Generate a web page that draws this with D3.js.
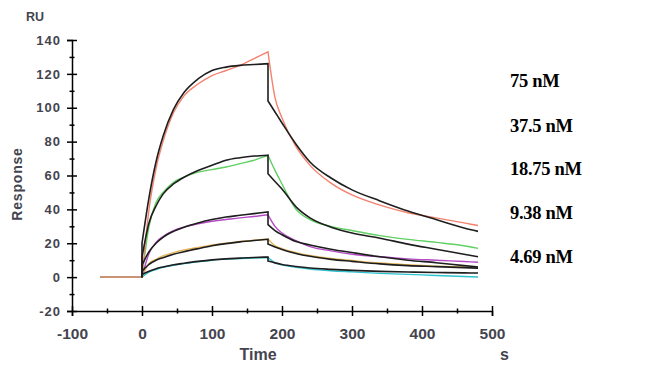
<!DOCTYPE html>
<html>
<head>
<meta charset="utf-8">
<script src="https://cdn.jsdelivr.net/npm/d3@7"></script>
<style>
  body { margin: 0; background: #fff; }
  svg { display: block; }
</style>
</head>
<body>
<div id="chart"></div>
<script>
// time points (s)
const assocTimes = [0, 10, 20, 30, 45, 60, 80, 100, 120, 140, 160, 180];
const dissTimes = [180, 190, 200, 220, 240, 270, 300, 340, 380, 420, 460, 480];
const baselineTimes = [-60, 0];

const concentrations = ["75 nM", "37.5 nM", "18.75 nM", "9.38 nM", "4.69 nM"];
const seriesColours = ["#f4826e", "#5fd062", "#b549c6", "#e6b65a", "#2cc3cf"];

// measured responses (RU)
const dataAssoc = [
  [0, 40, 64, 80, 97, 107, 114, 119, 122, 125, 129, 133],
  [0, 30, 44, 50, 56, 59, 62, 63.5, 65, 67, 69, 72],
  [0, 14, 20.5, 24, 27.5, 29.5, 31.5, 33, 34, 35, 35.8, 36.8],
  [0, 8, 10.5, 12.5, 14.5, 16, 17.5, 19, 20, 21, 21.8, 22.5],
  [0, 3, 4.5, 5.8, 7, 8, 9, 10, 10.6, 11, 11.3, 11.6]
];
const dataDiss = [
  [133, 106, 94, 77, 66, 55.5, 48.5, 42.5, 38, 35, 32, 30.5],
  [72, 63, 55, 40, 34, 30, 27.5, 24.5, 22.3, 20.5, 18.5, 17],
  [36.8, 30, 26, 21.5, 18, 15.5, 13.5, 12, 10.8, 10, 9.2, 8.8],
  [22.5, 18.5, 16.8, 14.5, 12.8, 11, 9.8, 8.3, 7.3, 6.5, 6, 5.8],
  [11.6, 8.5, 7.2, 5.8, 4.8, 3.8, 3.1, 2.2, 1.6, 1, 0.4, 0.1]
];

// fitted curves (RU)
const fitAssoc = [
  [20, 47, 68, 83, 99, 109, 117, 122, 124, 125, 125.5, 126],
  [12, 32, 42, 49, 55, 59, 63, 66, 69, 70.5, 71.5, 72],
  [7, 15, 20, 23.5, 27, 29.5, 32, 34, 35.5, 36.5, 37.5, 38.5],
  [3.5, 7.5, 10, 11.5, 13.5, 15, 16.8, 18.5, 19.8, 20.8, 21.6, 22.3],
  [1.5, 3.5, 5, 6, 7.3, 8.2, 9.3, 10.2, 10.8, 11.2, 11.6, 11.9]
];
const fitDiss = [
  [104, 97.5, 91, 78.5, 68, 58.5, 51.5, 45, 39, 34, 29, 27],
  [61, 56.5, 52, 41.5, 35, 29.5, 26, 23, 19.5, 16.5, 13.5, 12],
  [31, 27.5, 25, 21, 19, 16.5, 14.5, 12, 10, 8.5, 6.8, 6],
  [19.5, 17.8, 16.3, 14, 12.3, 10.5, 9.3, 7.8, 6.8, 6.2, 5.6, 5.3],
  [9.5, 8.4, 7.5, 6.3, 5.4, 4.6, 4, 3.4, 3, 2.7, 2.5, 2.4]
];

const xTicks = [-100, 0, 100, 200, 300, 400, 500];
const yTicks = [-20, 0, 20, 40, 60, 80, 100, 120, 140];

/*  layout  */
const width = 650;
const height = 367;

const svg = d3.select("#chart")
  .append("svg")
    .attr("width", width)
    .attr("height", height);

const xScale = d3.scaleLinear().domain([-100, 500]).range([72, 492]);
const yScale = d3.scaleLinear().domain([-20, 140]).range([311, 40]);

const axisFont = "'Liberation Sans', Arial, sans-serif";
const labelColour = "#44444e";

// minor ticks
svg.append("g")
    .attr("transform", `translate(0, ${yScale(-20)})`)
    .call(d3.axisBottom(xScale).tickValues(d3.range(-50, 500, 100)).tickFormat("").tickSize(0))
    .call(g => g.select(".domain").remove())
    .call(g => g.selectAll(".tick line").attr("y1", -2.5).attr("y2", 2.5).attr("stroke", "#000").attr("stroke-width", 1.5));

svg.append("g")
    .attr("transform", `translate(${xScale(-100)}, 0)`)
    .call(d3.axisLeft(yScale).tickValues(d3.range(-10, 140, 20)).tickFormat("").tickSize(0))
    .call(g => g.select(".domain").remove())
    .call(g => g.selectAll(".tick line").attr("x1", -2.5).attr("x2", 2.5).attr("stroke", "#000").attr("stroke-width", 1.5));

// x axis
svg.append("g")
    .attr("transform", `translate(0, ${yScale(-20)})`)
    .call(d3.axisBottom(xScale).tickValues(xTicks).tickFormat(d => String(d))
      .tickSizeOuter(0).tickSize(5).tickPadding(12))
    .call(g => g.select(".domain").attr("stroke-width", 1.5))
    .call(g => g.selectAll(".tick line").attr("y1", -5).attr("y2", 5).attr("stroke-width", 1.5))
    .call(g => g.selectAll("text")
        .attr("font-family", axisFont)
        .attr("font-weight", "bold")
        .attr("font-size", 15.5)
        .attr("fill", labelColour));

// y axis
svg.append("g")
    .attr("transform", `translate(${xScale(-100)}, 0)`)
    .call(d3.axisLeft(yScale).tickValues(yTicks).tickFormat(d => String(d))
      .tickSizeOuter(0).tickSize(5).tickPadding(6))
    .call(g => g.select(".domain").attr("stroke-width", 1.5))
    .call(g => g.selectAll(".tick line").attr("x1", -5).attr("x2", 5).attr("stroke-width", 1.5))
    .call(g => g.selectAll("text")
        .attr("font-family", axisFont)
        .attr("font-weight", "bold")
        .attr("font-size", 13)
        .attr("letter-spacing", 1)
        .attr("fill", labelColour));

/*  curves  */
const lineMono = d3.line()
  .x(d => xScale(d[0]))
  .y(d => yScale(d[1]))
  .curve(d3.curveMonotoneX);

const lineStraight = d3.line()
  .x(d => xScale(d[0]))
  .y(d => yScale(d[1]));

const plot = svg.append("g");

// measured data, smallest first so red sits on top
d3.range(concentrations.length).reverse().forEach(i => {
  const base = lineStraight(baselineTimes.map(t => [t, 0]));
  const a = lineMono(assocTimes.map((t, j) => [t, dataAssoc[i][j]]));
  const b = lineMono(dissTimes.map((t, j) => [t, dataDiss[i][j]]));
  plot.append("path")
    .attr("d", base + "L" + a.slice(1) + "L" + b.slice(1))
    .attr("fill", "none")
    .attr("stroke", seriesColours[i])
    .attr("stroke-width", 1.4);
});

// fitted curves
d3.range(concentrations.length).forEach(i => {
  const start = lineStraight([[0, 0], [0, fitAssoc[i][0]]]);
  const a = lineMono(assocTimes.map((t, j) => [t, fitAssoc[i][j]]));
  const b = lineMono(dissTimes.map((t, j) => [t, fitDiss[i][j]]));
  plot.append("path")
    .attr("d", start + "L" + a.slice(1) + "L" + b.slice(1))
    .attr("fill", "none")
    .attr("stroke", "#1e1e1e")
    .attr("stroke-width", 1.6);
});

/*  labels  */
svg.append("text")
    .text("RU")
    .attr("x", 26)
    .attr("y", 21)
    .attr("font-family", axisFont)
    .attr("font-weight", "bold")
    .attr("font-size", 12.5)
    .attr("fill", labelColour);

svg.append("text")
    .text("Response")
    .attr("transform", "translate(22, 184) rotate(-90)")
    .attr("text-anchor", "middle")
    .attr("font-family", axisFont)
    .attr("font-weight", "bold")
    .attr("font-size", 14)
    .attr("letter-spacing", 0.8)
    .attr("fill", labelColour);

svg.append("text")
    .text("Time")
    .attr("x", 258)
    .attr("y", 360)
    .attr("text-anchor", "middle")
    .attr("font-family", axisFont)
    .attr("font-weight", "bold")
    .attr("font-size", 16)
    .attr("fill", labelColour);

svg.append("text")
    .text("s")
    .attr("x", 500)
    .attr("y", 360)
    .attr("font-family", axisFont)
    .attr("font-weight", "bold")
    .attr("font-size", 16)
    .attr("fill", labelColour);

const legendY = [87, 132, 175, 219, 263];
svg.append("g")
  .selectAll("text")
  .data(concentrations)
  .join("text")
    .text(d => d)
    .attr("x", 510)
    .attr("y", (d, i) => legendY[i])
    .attr("font-family", "'Liberation Serif', 'Times New Roman', serif")
    .attr("font-weight", "bold")
    .attr("font-size", 18.5)
    .attr("letter-spacing", -0.3)
    .attr("fill", "#000");
</script>
</body>
</html>
